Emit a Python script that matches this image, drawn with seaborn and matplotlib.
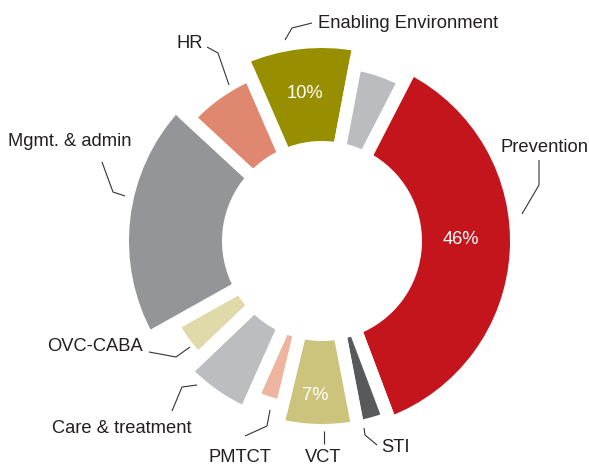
import matplotlib
matplotlib.use("Agg")
import matplotlib.pyplot as plt
import seaborn as sns

# ---- data (shares, clockwise from the top) ----
categories = ["Enabling Environment", "Other", "Prevention", "STI", "VCT",
              "PMTCT", "Care & treatment", "OVC-CABA", "Mgmt. & admin", "HR"]
shares = [9.5, 4.6, 36.7, 2.7, 6.8, 2.9, 6.2, 4.0, 20.0, 6.6]
pct_text = ["10%", "", "46%", "", "7%", "", "", "", "", ""]

# ---- styling ----
colors = ["#988F00", "#BBBCC0", "#C4141C", "#58595B", "#CCC47C",
          "#EDB49E", "#BCBDC1", "#E0DAAA", "#939598", "#E08770"]
outer_r = [193, 174, 188, 183, 183, 164, 182, 165, 193, 175]   # px
inner_r = 100
gap_px = 13
center = (322, 241)

sns.set_theme(style="white")
plt.rcParams["font.family"] = ["Liberation Sans", "DejaVu Sans"]

fig = plt.figure(figsize=(5.89, 4.66), dpi=100)
ax = fig.add_axes([0, 0, 1, 1])

lw_pt = gap_px * 72 / 100
wedges, _ = ax.pie(shares, colors=colors, startangle=246.5, counterclock=True,
                   center=center, radius=1,
                   wedgeprops=dict(width=0.5, edgecolor="white", linewidth=lw_pt))
for w, r in zip(wedges, outer_r):
    w.set_radius(r + gap_px / 2)
    w.set_width(r + gap_px / 2 - (inner_r - gap_px / 2))

ax.set_xlim(0, 589)
ax.set_ylim(466, 0)
ax.set_aspect("equal")
ax.axis("off")

txt_col = "#231F20"
fs = 13.2

# category labels (left x, baseline y) and leader lines
label_pos = {
    "Enabling Environment": (318, 27.5),
    "HR": (176, 47.5),
    "Mgmt. & admin": (7.5, 146),
    "Prevention": (500.5, 152),
    "OVC-CABA": (47, 351),
    "Care & treatment": (51.5, 433),
    "PMTCT": (208, 462),
    "VCT": (304.5, 462),
    "STI": (381.5, 452),
}
leaders = {
    "Enabling Environment": [(285, 40), (292, 28), (312, 23)],
    "HR": [(207, 47), (218, 53), (229, 85)],
    "Mgmt. & admin": [(102, 162), (113, 192), (125, 196)],
    "Prevention": [(539, 160), (539, 185), (522, 214)],
    "OVC-CABA": [(149, 352), (176, 357), (190, 347)],
    "Care & treatment": [(172, 411), (182, 387), (197, 385)],
    "PMTCT": [(245, 436), (267, 426), (270, 410)],
    "VCT": [(324, 431), (324, 444)],
    "STI": [(364, 428), (365, 435), (377, 445)],
}
for name, (x, y) in label_pos.items():
    ax.text(x, y, name, fontsize=fs, color=txt_col, ha="left", va="baseline")
    pts = leaders[name]
    ax.plot([p[0] for p in pts], [p[1] for p in pts], color="#333333", lw=0.8,
            solid_capstyle="butt")

# percentage labels inside wedges
pct_pos = {"10%": (304.5, 93), "46%": (461, 240), "7%": (315, 396)}
for t in pct_text:
    if t:
        x, y = pct_pos[t]
        ax.text(x, y, t, fontsize=fs, color="white", ha="center", va="center")

fig.savefig("out.png", dpi=100)
